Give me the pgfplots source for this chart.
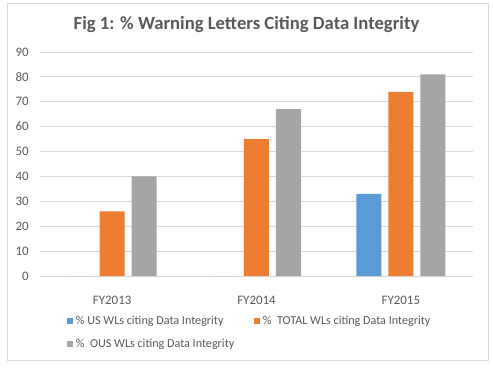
\documentclass[border=0pt]{standalone}
\usepackage{pgfplots}
\pgfplotsset{compat=1.18}
\usepackage{fontspec}
\setmainfont{Carlito}
\definecolor{cblue}{HTML}{5B9BD5}
\definecolor{corange}{HTML}{ED7D31}
\definecolor{cgray}{HTML}{A5A5A5}
\definecolor{txt}{HTML}{595959}
\definecolor{gridc}{HTML}{D9D9D9}
\begin{document}
\begin{tikzpicture}[x=1pt,y=1pt]
\path[use as bounding box] (0,0) rectangle (369.75,276);
\draw[gridc] (5.25,6) rectangle (366,273.75);
\node[text=txt,font=\bfseries\fontsize{14}{16}\selectfont] at (184.9,257.25) {Fig 1: \% Warning Letters Citing Data Integrity};
\begin{axis}[
  at={(30pt,69pt)}, anchor=south west,
  scale only axis, width=324.75pt, height=168pt,
  ybar=5.25pt, bar width=18.75pt,
  xmin=-0.5, xmax=2.5, ymin=0, ymax=90,
  xtick={0,1,2}, xticklabels={FY2013,FY2014,FY2015},
  ytick={0,10,...,90},
  ymajorgrids, grid style={gridc, line width=0.6pt},
  axis x line*=bottom, axis y line*=left,
  x axis line style={gridc, line width=0.6pt, -},
  y axis line style={draw=none},
  tick style={draw=none},
  /pgf/number format/assume math mode=true,
  ticklabel style={text=txt, font=\fontsize{9.7}{11}\selectfont},
  yticklabel style={inner sep=0pt, xshift=-8.25pt},
  xticklabel style={anchor=base, inner sep=0pt, yshift=-16.9pt},
  legend style={at={(0,0)}, anchor=north west, xshift=20.25pt, yshift=-28pt,
    draw=none, fill=none, inner sep=0pt, font=\fontsize{9.1}{10}\selectfont, text=txt,
    row sep=5pt, /tikz/every even column/.append style={column sep=13pt}},
  legend columns=2, legend cell align=left,
  legend image code/.code={\fill[#1] (0pt,-2.25pt) rectangle (4.5pt,2.25pt);},
]
\addplot[fill=cblue, draw=none] coordinates {(0,0) (1,0) (2,33)};
\addplot[fill=corange, draw=none] coordinates {(0,26) (1,55) (2,74)};
\addplot[fill=cgray, draw=none] coordinates {(0,40) (1,67) (2,81)};
\legend{\% US WLs citing Data Integrity, \%\ \ TOTAL WLs citing Data Integrity, \%\ \ OUS WLs citing Data Integrity}
\end{axis}
\end{tikzpicture}
\end{document}
